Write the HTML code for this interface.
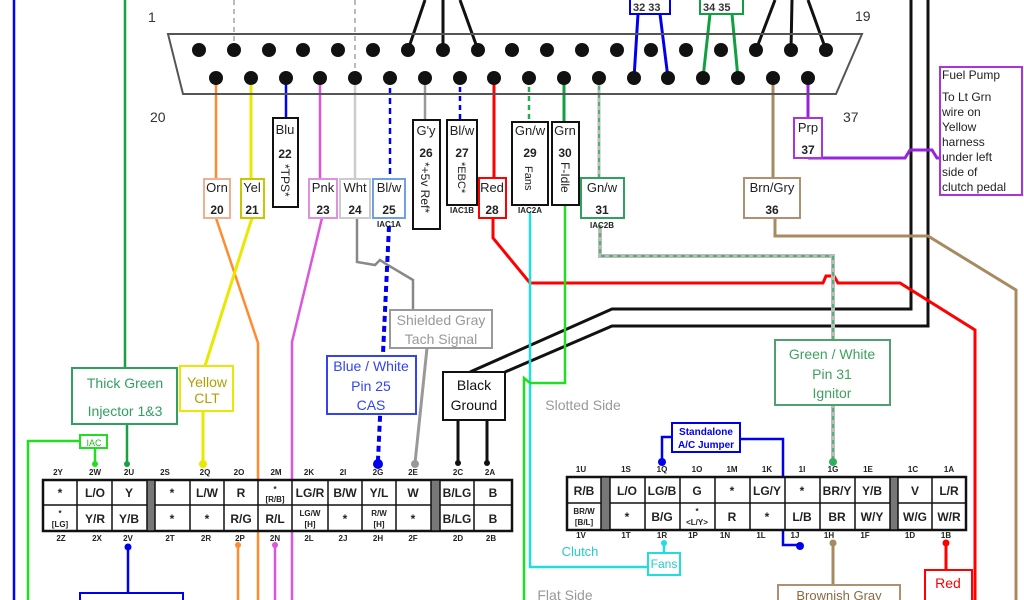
<!DOCTYPE html>
<html><head><meta charset="utf-8"><style>
html,body{margin:0;padding:0;background:#fff;}
svg{display:block;font-family:"Liberation Sans",sans-serif;}
.c{font-size:12px;font-weight:bold;text-anchor:middle;fill:#222;}
.s{font-size:8px;font-weight:bold;text-anchor:middle;fill:#222;}
</style></head><body>
<svg width="1024" height="600" viewBox="0 0 1024 600" xmlns="http://www.w3.org/2000/svg">
<g fill="none" stroke-width="2.5">
<line x1="14" y1="0" x2="14" y2="600" stroke="#0000ff"/>
<line x1="125" y1="0" x2="125" y2="368" stroke="#1aa040"/>
<line x1="127" y1="424" x2="127" y2="463" stroke="#1aa040"/>
<polyline points="28,600 28,441 80,441" stroke="#22dd22"/>
<line x1="95" y1="448" x2="95" y2="463" stroke="#22dd22"/>
<line x1="234" y1="0" x2="234" y2="50" stroke="#bbb" stroke-width="2" stroke-dasharray="5,4"/>
<line x1="355" y1="0" x2="355" y2="78" stroke="#bbb" stroke-width="2" stroke-dasharray="5,4"/>
<g stroke="#111" stroke-width="3">
<line x1="408" y1="50" x2="425" y2="0"/><line x1="443" y1="50" x2="443" y2="0"/><line x1="478" y1="50" x2="460" y2="0"/>
<line x1="756" y1="50" x2="775" y2="0"/><line x1="791" y1="50" x2="792" y2="0"/><line x1="826" y1="50" x2="808" y2="0"/>
<polyline points="911,0 911,309 612,309 470,372"/>
<polyline points="928,0 928,326 612,326 505,372"/>
<line x1="458" y1="420" x2="458" y2="462"/><line x1="487" y1="420" x2="487" y2="462"/>
</g>
<line x1="638" y1="14" x2="634" y2="78" stroke="#0000ee" stroke-width="3"/>
<line x1="660" y1="14" x2="668" y2="78" stroke="#0000ee" stroke-width="3"/>
<line x1="710" y1="14" x2="703" y2="78" stroke="#10a040" stroke-width="3"/>
<line x1="732" y1="14" x2="738" y2="78" stroke="#10a040" stroke-width="3"/>
<polyline points="216,78 216,180" stroke="#ff8c30"/>
<polyline points="216,218 258,343 258,600" stroke="#ff8c30"/>
<polyline points="251,78 251,180" stroke="#e8e800" stroke-width="3"/>
<polyline points="252,218 205,366" stroke="#e8e800" stroke-width="3"/>
<line x1="286" y1="78" x2="286" y2="118" stroke="#0000ff"/>
<polyline points="320,78 320,180" stroke="#dd55dd"/>
<polyline points="322,218 292,342 292,600" stroke="#dd55dd"/>
<polyline points="355,78 355,180" stroke="#ccc"/>
<polyline points="357,218 357,262 375,265 380,260 386,264 413,280 413,310" stroke="#888"/>
<line x1="427" y1="348" x2="415" y2="463" stroke="#999" stroke-width="3"/>
<line x1="425" y1="78" x2="425" y2="120" stroke="#999"/>
<line x1="390" y1="78" x2="390" y2="180" stroke="#0000ee" stroke-dasharray="6,4"/>
<line x1="389" y1="226" x2="378" y2="460" stroke="#0000ee" stroke-width="4" stroke-dasharray="6,4"/>
<line x1="460" y1="78" x2="460" y2="120" stroke="#0000ee" stroke-dasharray="5,4"/>
<polyline points="494,78 494,178" stroke="#ff0000" stroke-width="3"/>
<polyline points="493,218 493,238 530,283 823,283 826,276 834,276 838,283 900,283 975,330 975,600" stroke="#ff0000" stroke-width="3"/>
<line x1="529" y1="78" x2="529" y2="122" stroke="#20b050" stroke-dasharray="5,4"/>
<polyline points="530,212 530,567 648,567" stroke="#22dddd"/>
<line x1="664" y1="553" x2="664" y2="543" stroke="#22dddd"/>
<line x1="564" y1="78" x2="564" y2="122" stroke="#10a040" stroke-width="3"/>
<polyline points="565,205 565,383 530,383 524,378 524,600" stroke="#22dd22"/>
<line x1="599" y1="78" x2="599" y2="178" stroke="#bbb" stroke-width="3"/>
<line x1="599" y1="78" x2="599" y2="178" stroke="#30b060" stroke-width="1.5" stroke-dasharray="4,4"/>
<polyline points="600,225 600,256 833,256 833,462" stroke="#bbb" stroke-width="4"/>
<polyline points="600,225 600,256 833,256 833,462" stroke="#30b060" stroke-width="1.5" stroke-dasharray="4,4"/>
<line x1="773" y1="78" x2="773" y2="178" stroke="#a88a60" stroke-width="3"/>
<polyline points="775,218 775,236 928,236 1016,290 1016,600" stroke="#a88a60" stroke-width="3"/>
<polyline points="808,78 808,118" stroke="#9922dd" stroke-width="3"/>
<polyline points="808,158 905,158 910,150 932,150 937,158 940,158" stroke="#9922dd" stroke-width="3"/>
<polyline points="662,462 662,437 672,437" stroke="#0000ee"/>
<polyline points="740,439 783,439 783,545 800,545" stroke="#0000ee"/>
<line x1="833" y1="543" x2="833" y2="585" stroke="#a88a60" stroke-width="3"/>
<line x1="946" y1="543" x2="946" y2="570" stroke="#ff0000" stroke-width="3"/>
<line x1="128" y1="547" x2="128" y2="593" stroke="#0000ee"/>
<line x1="238" y1="545" x2="238" y2="600" stroke="#ff8c30"/>
<line x1="275" y1="545" x2="275" y2="600" stroke="#dd55dd"/>
<line x1="203" y1="411" x2="203" y2="463" stroke="#e8e800" stroke-width="3"/>
</g>
<polygon points="168,34 862,34 836,94 183,94" fill="none" stroke="#555" stroke-width="2"/>
<g fill="#111">
<circle cx="199" cy="50" r="7"/><circle cx="234" cy="50" r="7"/><circle cx="269" cy="50" r="7"/><circle cx="303" cy="50" r="7"/><circle cx="338" cy="50" r="7"/><circle cx="373" cy="50" r="7"/><circle cx="408" cy="50" r="7"/><circle cx="443" cy="50" r="7"/><circle cx="478" cy="50" r="7"/><circle cx="512" cy="50" r="7"/><circle cx="547" cy="50" r="7"/><circle cx="582" cy="50" r="7"/><circle cx="617" cy="50" r="7"/><circle cx="651" cy="50" r="7"/><circle cx="686" cy="50" r="7"/><circle cx="721" cy="50" r="7"/><circle cx="756" cy="50" r="7"/><circle cx="791" cy="50" r="7"/><circle cx="826" cy="50" r="7"/>
<circle cx="216" cy="78" r="7"/><circle cx="251" cy="78" r="7"/><circle cx="286" cy="78" r="7"/><circle cx="320" cy="78" r="7"/><circle cx="355" cy="78" r="7"/><circle cx="390" cy="78" r="7"/><circle cx="425" cy="78" r="7"/><circle cx="460" cy="78" r="7"/><circle cx="494" cy="78" r="7"/><circle cx="529" cy="78" r="7"/><circle cx="564" cy="78" r="7"/><circle cx="599" cy="78" r="7"/><circle cx="634" cy="78" r="7"/><circle cx="668" cy="78" r="7"/><circle cx="703" cy="78" r="7"/><circle cx="738" cy="78" r="7"/><circle cx="773" cy="78" r="7"/><circle cx="808" cy="78" r="7"/>
</g>
<g font-size="14" fill="#333"><text x="148" y="22">1</text><text x="855" y="21">19</text><text x="150" y="122">20</text><text x="843" y="122">37</text></g>
<g fill="#fff" stroke-width="2">
<rect x="630" y="-2" width="40" height="16" stroke="#0000ee"/>
<rect x="700" y="-2" width="43" height="16" stroke="#10a040"/>
<rect x="204" y="179" width="26" height="39" stroke="#f0b090"/>
<rect x="241" y="179" width="23" height="39" stroke="#c8c800"/>
<rect x="273" y="118" width="25" height="89" stroke="#111"/>
<rect x="309" y="179" width="28" height="39" stroke="#e090e0"/>
<rect x="340" y="179" width="30" height="39" stroke="#ccc"/>
<rect x="373" y="179" width="32" height="39" stroke="#70a0e0"/>
<rect x="413" y="120" width="27" height="109" stroke="#111"/>
<rect x="447" y="120" width="30" height="85" stroke="#111"/>
<rect x="479" y="178" width="27" height="40" stroke="#ff0000"/>
<rect x="512" y="122" width="36" height="83" stroke="#111"/>
<rect x="552" y="122" width="27" height="83" stroke="#111"/>
<rect x="581" y="178" width="43" height="40" stroke="#30a060"/>
<rect x="744" y="178" width="56" height="40" stroke="#b09070"/>
<rect x="794" y="118" width="28" height="40" stroke="#aa33dd"/>
<rect x="940" y="67" width="82" height="128" stroke="#aa33dd"/>
</g>
<g font-size="13" fill="#222">
<text x="633" y="11" font-size="11" font-weight="bold" fill="#333">32 33</text>
<text x="703" y="11" font-size="11" font-weight="bold" fill="#333">34 35</text>
<text x="217" y="192" text-anchor="middle">Orn</text><text x="217" y="214" class="c">20</text>
<text x="252" y="192" text-anchor="middle">Yel</text><text x="252" y="214" class="c">21</text>
<text x="285" y="134" text-anchor="middle">Blu</text><text x="285" y="158" class="c">22</text>
<text transform="translate(281,164) rotate(90)" font-size="12">*TPS*</text>
<text x="323" y="192" text-anchor="middle">Pnk</text><text x="323" y="214" class="c">23</text>
<text x="355" y="192" text-anchor="middle">Wht</text><text x="355" y="214" class="c">24</text>
<text x="389" y="192" text-anchor="middle">Bl/w</text><text x="389" y="214" class="c">25</text>
<text x="389" y="227" class="s">IAC1A</text>
<text x="426" y="135" text-anchor="middle">G'y</text><text x="426" y="157" class="c">26</text>
<text transform="translate(421,162) rotate(90)" font-size="12">*+5v Ref*</text>
<text x="462" y="135" text-anchor="middle">Bl/w</text><text x="462" y="157" class="c">27</text>
<text transform="translate(458,162) rotate(90)" font-size="11">*EBC*</text>
<text x="462" y="213" class="s">IAC1B</text>
<text x="492" y="192" text-anchor="middle">Red</text><text x="492" y="214" class="c">28</text>
<text x="530" y="135" text-anchor="middle">Gn/w</text><text x="530" y="157" class="c">29</text>
<text transform="translate(525,166) rotate(90)" font-size="11">Fans</text>
<text x="530" y="213" class="s">IAC2A</text>
<text x="565" y="135" text-anchor="middle">Grn</text><text x="565" y="157" class="c">30</text>
<text transform="translate(561,162) rotate(90)" font-size="12">F-Idle</text>
<text x="602" y="192" text-anchor="middle">Gn/w</text><text x="602" y="214" class="c">31</text>
<text x="602" y="228" class="s">IAC2B</text>
<text x="772" y="192" text-anchor="middle">Brn/Gry</text><text x="772" y="214" class="c">36</text>
<text x="808" y="132" text-anchor="middle">Prp</text><text x="808" y="154" class="c">37</text>
<text x="942" y="79" font-size="12">Fuel Pump</text>
<text x="942" y="101" font-size="12">To Lt Grn</text>
<text x="942" y="116" font-size="12">wire on</text>
<text x="942" y="131" font-size="12">Yellow</text>
<text x="942" y="146" font-size="12">harness</text>
<text x="942" y="161" font-size="12">under left</text>
<text x="942" y="176" font-size="12">side of</text>
<text x="942" y="191" font-size="12">clutch pedal</text>
</g>
<g fill="#fff" stroke-width="2">
<rect x="72" y="368" width="105" height="56" stroke="#30a060"/>
<rect x="180" y="366" width="53" height="45" stroke="#e8e800"/>
<rect x="80" y="435" width="27" height="13" stroke="#22dd22"/>
<rect x="390" y="310" width="102" height="38" stroke="#999"/>
<rect x="327" y="356" width="89" height="58" stroke="#3344ee"/>
<rect x="443" y="372" width="62" height="48" stroke="#111"/>
<rect x="775" y="340" width="115" height="65" stroke="#50a070"/>
<rect x="672" y="423" width="68" height="29" stroke="#0000ee"/>
<rect x="648" y="553" width="32" height="22" stroke="#22dddd"/>
<rect x="778" y="585" width="122" height="20" stroke="#b09070"/>
<rect x="925" y="570" width="47" height="35" stroke="#ff0000"/>
<rect x="80" y="593" width="103" height="12" stroke="#0000ee"/>
</g>
<g font-size="14" text-anchor="middle">
<text x="125" y="388" fill="#30a060">Thick Green</text><text x="125" y="416" fill="#30a060">Injector 1&amp;3</text>
<text x="207" y="387" fill="#b0a000">Yellow</text><text x="207" y="403" fill="#b0a000">CLT</text>
<text x="94" y="446" font-size="9" fill="#22bb22">IAC</text>
<text x="441" y="325" fill="#999">Shielded Gray</text><text x="441" y="344" fill="#999">Tach Signal</text>
<text x="371" y="371" fill="#3344ee">Blue / White</text><text x="371" y="391" fill="#3344ee">Pin 25</text><text x="371" y="410" fill="#3344ee">CAS</text>
<text x="474" y="390" fill="#111">Black</text><text x="474" y="410" fill="#111">Ground</text>
<text x="832" y="359" fill="#40a060">Green / White</text><text x="832" y="379" fill="#40a060">Pin 31</text><text x="832" y="398" fill="#40a060">Ignitor</text>
<text x="706" y="435" font-size="10" fill="#0000ee" font-weight="bold">Standalone</text><text x="706" y="448" font-size="10" fill="#0000ee" font-weight="bold">A/C Jumper</text>
<text x="664" y="568" font-size="12" fill="#22cccc">Fans</text>
<text x="580" y="556" font-size="13" fill="#22cccc">Clutch</text>
<text x="583" y="410" fill="#999">Slotted Side</text>
<text x="565" y="600" fill="#999">Flat Side</text>
<text x="839" y="600" font-size="13" fill="#8a6a40">Brownish Gray</text>
<text x="948" y="588" fill="#ff0000">Red</text>
</g>
<g>
<circle cx="95" cy="464" r="3" fill="#22dd22"/><circle cx="127" cy="464" r="3" fill="#1aa040"/>
<circle cx="203" cy="464" r="4" fill="#e8e800"/><circle cx="378" cy="464" r="5" fill="#0000ee"/>
<circle cx="415" cy="464" r="4" fill="#999"/><circle cx="458" cy="463" r="3" fill="#111"/><circle cx="487" cy="463" r="3" fill="#111"/>
<circle cx="128" cy="547" r="3.5" fill="#0000ee"/><circle cx="238" cy="545" r="3" fill="#ff8c30"/><circle cx="275" cy="545" r="3" fill="#dd55dd"/>
<circle cx="662" cy="462" r="4" fill="#0000ee"/><circle cx="833" cy="462" r="4" fill="#30b060"/>
<circle cx="664" cy="543" r="3" fill="#22dddd"/><circle cx="800" cy="546" r="4" fill="#0000ee"/>
<circle cx="833" cy="543" r="3.5" fill="#a88a60"/><circle cx="946" cy="543" r="3.5" fill="#ff0000"/>
</g>
<g stroke="#111" stroke-width="1.5" fill="#fff">
<rect x="43" y="480" width="469" height="51" stroke-width="2.5"/>
<line x1="43" y1="505" x2="512" y2="505"/>
<line x1="77" y1="480" x2="77" y2="531"/><line x1="112" y1="480" x2="112" y2="531"/>
<rect x="147" y="480" width="8" height="51" fill="#777"/>
<line x1="190" y1="480" x2="190" y2="531"/><line x1="224" y1="480" x2="224" y2="531"/><line x1="258" y1="480" x2="258" y2="531"/><line x1="292" y1="480" x2="292" y2="531"/><line x1="328" y1="480" x2="328" y2="531"/><line x1="362" y1="480" x2="362" y2="531"/><line x1="396" y1="480" x2="396" y2="531"/>
<rect x="431" y="480" width="9" height="51" fill="#777"/>
<line x1="474" y1="480" x2="474" y2="531"/>
</g>
<g>
<text x="60" y="497" class="c">*</text><text x="95" y="497" class="c">L/O</text><text x="129" y="497" class="c">Y</text>
<text x="172" y="497" class="c">*</text><text x="207" y="497" class="c">L/W</text><text x="241" y="497" class="c">R</text>
<text x="275" y="492" class="s">*</text><text x="275" y="502" class="s">[R/B]</text>
<text x="310" y="497" class="c" font-size="11">LG/R</text><text x="345" y="497" class="c">B/W</text><text x="379" y="497" class="c">Y/L</text><text x="413" y="497" class="c">W</text>
<text x="457" y="497" class="c" font-size="11">B/LG</text><text x="493" y="497" class="c">B</text>
<text x="60" y="516" class="s">*</text><text x="60" y="527" class="s">[LG]</text>
<text x="95" y="523" class="c">Y/R</text><text x="129" y="523" class="c">Y/B</text>
<text x="172" y="523" class="c">*</text><text x="207" y="523" class="c">*</text><text x="241" y="523" class="c">R/G</text><text x="275" y="523" class="c">R/L</text>
<text x="310" y="516" class="s">LG/W</text><text x="310" y="527" class="s">[H]</text>
<text x="345" y="523" class="c">*</text>
<text x="379" y="516" class="s">R/W</text><text x="379" y="527" class="s">[H]</text>
<text x="413" y="523" class="c">*</text><text x="457" y="523" class="c" font-size="11">B/LG</text><text x="493" y="523" class="c">B</text>
</g>
<g class="s">
<text x="58" y="475">2Y</text><text x="95" y="475">2W</text><text x="129" y="475">2U</text><text x="165" y="475">2S</text><text x="205" y="475">2Q</text><text x="239" y="475">2O</text><text x="276" y="475">2M</text><text x="309" y="475">2K</text><text x="343" y="475">2I</text><text x="378" y="475">2G</text><text x="413" y="475">2E</text><text x="458" y="475">2C</text><text x="490" y="475">2A</text>
<text x="61" y="541">2Z</text><text x="97" y="541">2X</text><text x="128" y="541">2V</text><text x="170" y="541">2T</text><text x="206" y="541">2R</text><text x="240" y="541">2P</text><text x="275" y="541">2N</text><text x="309" y="541">2L</text><text x="343" y="541">2J</text><text x="378" y="541">2H</text><text x="413" y="541">2F</text><text x="458" y="541">2D</text><text x="491" y="541">2B</text>
</g>
<g stroke="#111" stroke-width="1.5" fill="#fff">
<rect x="567" y="477" width="399" height="53" stroke-width="2.5"/>
<line x1="567" y1="503" x2="966" y2="503"/>
<rect x="601" y="477" width="9" height="53" fill="#777"/>
<line x1="645" y1="477" x2="645" y2="530"/><line x1="680" y1="477" x2="680" y2="530"/><line x1="715" y1="477" x2="715" y2="530"/><line x1="750" y1="477" x2="750" y2="530"/><line x1="785" y1="477" x2="785" y2="530"/><line x1="820" y1="477" x2="820" y2="530"/><line x1="855" y1="477" x2="855" y2="530"/>
<rect x="890" y="477" width="8" height="53" fill="#777"/>
<line x1="932" y1="477" x2="932" y2="530"/>
</g>
<g>
<text x="584" y="495" class="c">R/B</text><text x="627" y="495" class="c">L/O</text><text x="662" y="495" class="c" font-size="11">LG/B</text><text x="697" y="495" class="c">G</text><text x="732" y="495" class="c">*</text><text x="767" y="495" class="c" font-size="11">LG/Y</text><text x="802" y="495" class="c">*</text><text x="837" y="495" class="c" font-size="11">BR/Y</text><text x="872" y="495" class="c">Y/B</text><text x="915" y="495" class="c">V</text><text x="949" y="495" class="c">L/R</text>
<text x="584" y="514" class="s">BR/W</text><text x="584" y="525" class="s">[B/L]</text>
<text x="627" y="521" class="c">*</text><text x="662" y="521" class="c">B/G</text>
<text x="697" y="514" class="s">*</text><text x="697" y="525" class="s">&lt;L/Y&gt;</text>
<text x="732" y="521" class="c">R</text><text x="767" y="521" class="c">*</text><text x="802" y="521" class="c">L/B</text><text x="837" y="521" class="c">BR</text><text x="872" y="521" class="c">W/Y</text><text x="915" y="521" class="c">W/G</text><text x="949" y="521" class="c">W/R</text>
</g>
<g class="s">
<text x="581" y="472">1U</text><text x="626" y="472">1S</text><text x="662" y="472">1Q</text><text x="697" y="472">1O</text><text x="732" y="472">1M</text><text x="767" y="472">1K</text><text x="802" y="472">1I</text><text x="833" y="472">1G</text><text x="868" y="472">1E</text><text x="913" y="472">1C</text><text x="949" y="472">1A</text>
<text x="581" y="538">1V</text><text x="626" y="538">1T</text><text x="662" y="538">1R</text><text x="693" y="538">1P</text><text x="725" y="538">1N</text><text x="761" y="538">1L</text><text x="795" y="538">1J</text><text x="829" y="538">1H</text><text x="865" y="538">1F</text><text x="910" y="538">1D</text><text x="946" y="538">1B</text>
</g>
</svg>
</body></html>
